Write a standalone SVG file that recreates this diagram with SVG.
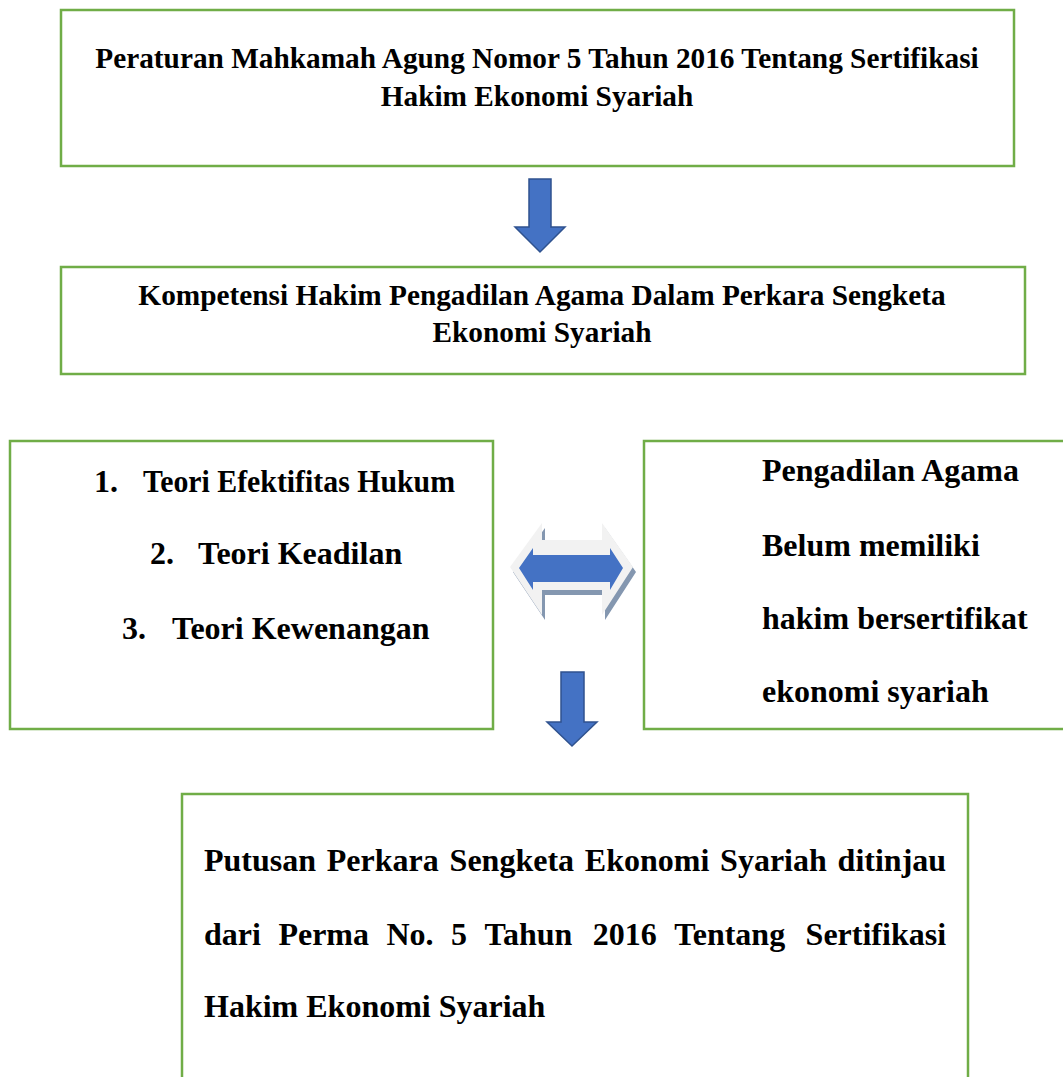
<svg xmlns="http://www.w3.org/2000/svg" width="1063" height="1077" viewBox="0 0 1063 1077">
<style>
.box{fill:#fff;stroke:#70AD47;stroke-width:2.5}
.t{font-family:"Liberation Serif","Times New Roman",serif;font-weight:bold;fill:#000}
.s{font-size:29.3px}
.l{font-size:32px}
.arr{fill:#4472C4;stroke:#2F528F;stroke-width:1.5}
</style>
<rect width="1063" height="1077" fill="#fff"/>
<g id="node1">
<rect class="box" x="61" y="10" width="953" height="156"/>
<text class="t s" x="537" y="68" text-anchor="middle">Peraturan Mahkamah Agung Nomor 5 Tahun 2016 Tentang Sertifikasi</text>
<text class="t s" x="537" y="106" text-anchor="middle">Hakim Ekonomi Syariah</text>
</g>
<g id="node2">
<rect class="box" x="61" y="267" width="964" height="107"/>
<text class="t s" x="542" y="305" text-anchor="middle">Kompetensi Hakim Pengadilan Agama Dalam Perkara Sengketa</text>
<text class="t s" x="542" y="342" text-anchor="middle">Ekonomi Syariah</text>
</g>
<g id="node3">
<rect class="box" x="10" y="441" width="483" height="288"/>
<text class="t l" x="94" y="492">1.</text><text class="t l" x="143" y="492" textLength="312" lengthAdjust="spacingAndGlyphs">Teori Efektifitas Hukum</text>
<text class="t l" x="150" y="564">2.</text><text class="t l" x="198" y="564">Teori Keadilan</text>
<text class="t l" x="122" y="639">3.</text><text class="t l" x="172" y="639">Teori Kewenangan</text>
</g>
<g id="node4">
<rect class="box" x="644" y="441" width="425" height="288"/>
<text class="t l" x="762" y="481">Pengadilan Agama</text>
<text class="t l" x="762" y="556">Belum memiliki</text>
<text class="t l" x="762" y="629">hakim bersertifikat</text>
<text class="t l" x="762" y="702">ekonomi syariah</text>
</g>
<g id="node5">
<rect class="box" x="182" y="794" width="786" height="290"/>
<text class="t l" y="871"><tspan x="204">Putusan</tspan><tspan x="326.8">Perkara</tspan><tspan x="449.6">Sengketa</tspan><tspan x="584.8">Ekonomi</tspan><tspan x="720.1">Syariah</tspan><tspan x="837.6">ditinjau</tspan></text>
<text class="t l" y="945"><tspan x="204">dari</tspan><tspan x="278.4">Perma</tspan><tspan x="386.5">No.</tspan><tspan x="451.1">5</tspan><tspan x="484.6">Tahun</tspan><tspan x="592.8">2016</tspan><tspan x="674.3">Tentang</tspan><tspan x="805.6">Sertifikasi</tspan></text>
<text class="t l" x="204" y="1017">Hakim Ekonomi Syariah</text>
</g>
<g id="connectors">
<polygon class="arr" points="529,179 551,179 551,227 565,227 540,252 515,227 529,227"/>
<polygon class="arr" points="561,672 584,672 584,722 597,722 572,746 547,722 561,722"/>
<g id="double-arrow">
<polygon fill="#8497B0" points="513,572 545,528 545,545 605,545 605,528 636,572 605,620 605,595 545,595 545,620"/>
<polygon fill="#F2F2F2" points="510,567 542,523 542,540 602,540 602,523 633,567 602,615 602,590 542,590 542,615"/>
<polygon fill="#4472C4" points="519,568 533,548 533,555 610,555 610,548 623,568 610,590 610,582 533,582 533,590"/>
</g>
</g>
</svg>
